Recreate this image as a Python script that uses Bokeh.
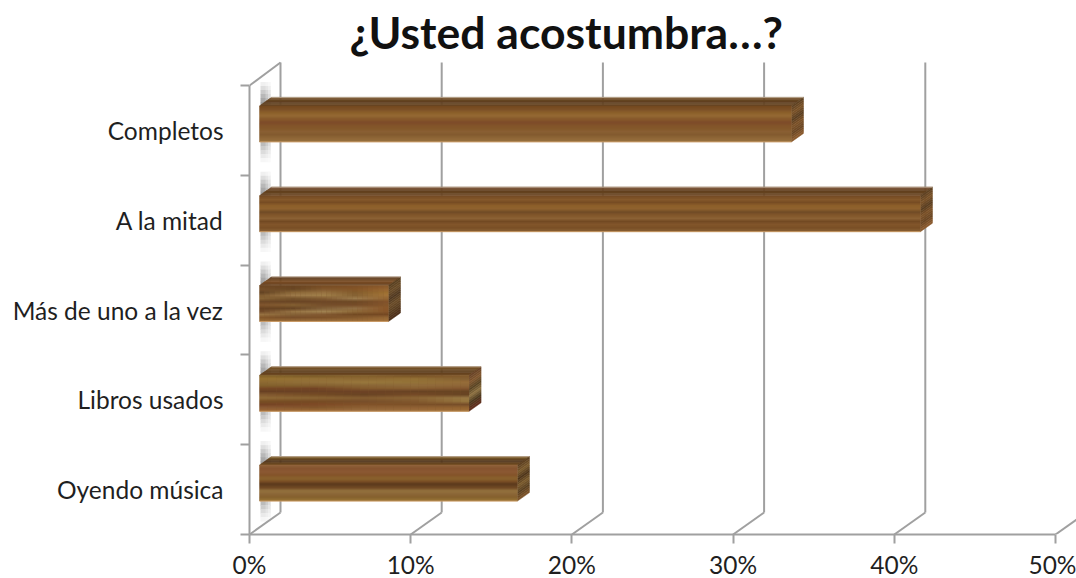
from bokeh.plotting import figure
from bokeh.models import FixedTicker, Range1d
from bokeh.embed import file_html
from bokeh.resources import INLINE

categories = ["Completos", "A la mitad", "Más de uno a la vez", "Libros usados", "Oyendo música"]
values = [33, 41, 8, 13, 16]
x_ticks = [0, 10, 20, 30, 40, 50]
x_labels = ["0%", "10%", "20%", "30%", "40%", "50%"]
title_text = "¿Usted acostumbra…?"

# wood grain: rows from top to bottom, each row with one or more colours from left to right
front_grain = [
    [["#74491f"], ["#7c5026"], ["#8d6029"], ["#9a6e34"], ["#88592a"], ["#7d4a28"],
     ["#825329"], ["#84582a"], ["#8b6134"], ["#825b2e"], ["#936b3a"], ["#997542"]],
    [["#724822"], ["#84582a"], ["#774c23"], ["#8f6029"], ["#93652e"], ["#6d4924"],
     ["#82572a"], ["#8b6134"], ["#724922"], ["#82552a"], ["#764b22"], ["#896136"]],
    [["#66401f", "#623e1e", "#75481f", "#7d4d24", "#8c5929"],
     ["#724e2a", "#634322", "#82592e", "#865526", "#9d6832"],
     ["#624324", "#8c6939", "#987342", "#845d2e", "#9f7132"],
     ["#825d32", "#9c794a", "#a07f4a", "#876334", "#a27338"],
     ["#876536", "#74532c", "#825d34", "#a08152", "#986934"],
     ["#664324", "#623f22", "#684224", "#664322", "#82512a"],
     ["#82552e", "#866334", "#724b2a", "#724826", "#86552a"],
     ["#623f20", "#624122", "#82633c", "#96754a", "#8d582a"],
     ["#724b2a", "#967344", "#a18352", "#8e6938", "#87552a"],
     ["#987342", "#866338", "#825932", "#724922", "#744722"],
     ["#84572a", "#764d2a", "#7c5128", "#865b2e", "#986936"],
     ["#9c6f38", "#a0733e", "#a07542", "#a4753e", "#ad793e"]],
    [["#826328", "#765722", "#825f2a", "#744f22", "#82592a"],
     ["#9e7b32", "#9a793a", "#926f36", "#9a7938", "#866334"],
     ["#906f34", "#98773e", "#a08142", "#98793a", "#9c733c"],
     ["#84632e", "#866332", "#8c6938", "#926f3e", "#92693a"],
     ["#764824", "#724324", "#82592c", "#865d30", "#82552e"],
     ["#643d22", "#683f24", "#6a3f24", "#643f22", "#644120"],
     ["#825930", "#724922", "#623d20", "#724724", "#623f20"],
     ["#946f3a", "#8c6936", "#865f32", "#8e6938", "#a0834a"],
     ["#764d22", "#744922", "#764d2a", "#82592e", "#9c7d42"],
     ["#764324", "#7e4926", "#82532a", "#7c5128", "#764d2a"],
     ["#8a5934", "#82552a", "#8e6134", "#906134", "#926330"],
     ["#a06936", "#a06d38", "#a07144", "#a2713e", "#a6733a"]],
    [["#90613a"], ["#875330"], ["#8e5934"], ["#845328"], ["#8c652e"], ["#784d24"],
     ["#56351a"], ["#6c4522"], ["#987942"], ["#8c6938"], ["#86632e"], ["#987336"]],
]
top_grain = [
    ["#6b4725", "#5f3f20", "#74502a"],
    ["#6b4725", "#64421f", "#70492a"],
    ["#6a4524", "#7c4e24", "#5c3a1c"],
    ["#6e4a24", "#5e3e1c", "#7a5628"],
    ["#7a5428", "#4e3218", "#80602f"],
]
side_grain = [
    ["#5f4222", "#7a5228", "#5a3e20", "#7c5228", "#6b4724", "#8a5a2e"],
    ["#5f4222", "#7a5228", "#5a3e20", "#7c5228", "#6b4724", "#8a5a2e"],
    ["#5a4020", "#6a4c28", "#503820", "#6a4c28", "#5a3e20", "#4c2e18"],
    ["#6a4426", "#80562e", "#5a4422", "#8c7040", "#4e3a1e", "#5e2e1c"],
    ["#5e4020", "#7a5a2c", "#4e3418", "#7a5a2c", "#5a4020", "#7a5228"],
]
wall_shade_above = ["#f0f0f0", "#dedede", "#cacaca", "#b8b8b8", "#a8a8a8", "#9c9c9c"]
wall_shade_below = ["#bcbcbc", "#cccccc", "#dcdcdc", "#eaeaea", "#f6f6f6"]

GRID = "#a0a0a0"
TEXT = "#1f1f1f"
FONT = "Lato"

px_x = 806 / 50          # pixels per percentage point
px_y = 449 / 5           # pixels per category band
depth_x, depth_y = 31 / px_x, 22 / px_y    # depth of the chart box
bar_dx, bar_dy = 12 / px_x, 8.5 / px_y     # depth of a bar
bar_x0 = 10 / px_x
bar_h = 36 / px_y
bar_lift = 6.5 / px_y


def rgb(c):
    return [int(c[j:j + 2], 16) for j in (1, 3, 5)]


def mix(a, b, t):
    return [a[j] + (b[j] - a[j]) * t for j in range(3)]


def hexc(c):
    return "#%02x%02x%02x" % tuple(int(round(x)) for x in c)


def smooth(colours, sub):
    """Blend between neighbouring grain colours so the streaks have soft edges."""
    if len(colours) == 1:
        return [rgb(colours[0])]
    out = []
    for a, b in zip(colours[:-1], colours[1:]):
        for s in range(sub):
            out.append(mix(rgb(a), rgb(b), s / sub))
    out.append(rgb(colours[-1]))
    return out


p = figure(width=1076, height=578, frame_height=474, frame_width=827,
           output_backend="svg", toolbar_location=None,
           x_range=Range1d(0, 827 / px_x), y_range=Range1d(0, 5 + 25 / px_y),
           min_border_left=249, min_border_right=0, min_border_top=60, min_border_bottom=44,
           background_fill_color="white", border_fill_color="white", outline_line_color=None)
p.grid.visible = False

p.title.text = title_text
p.title.text_font = FONT
p.title.text_font_size = "44.5px"
p.title.text_font_style = "bold"
p.title.text_color = "#111111"
p.title.align = "left"
p.title.offset = 100
p.title.standoff = 5

# value axis
xa = p.xaxis[0]
xa.ticker = FixedTicker(ticks=x_ticks)
xa.major_label_overrides = dict(zip(x_ticks, x_labels))
xa.bounds = (0, 50)
xa.axis_line_color = GRID
xa.axis_line_width = 2
xa.major_tick_line_color = GRID
xa.major_tick_line_width = 2
xa.major_tick_in = 0
xa.major_tick_out = 9
xa.minor_tick_line_color = None
xa.major_label_standoff = 6
xa.major_label_text_font = FONT
xa.major_label_text_font_size = "24.5px"
xa.major_label_text_color = TEXT

# category axis: labels at band centres, tick marks at band edges
centres = [5 - i - 0.5 for i in range(len(categories))]
edges = list(range(len(categories) + 1))
ya = p.yaxis[0]
ya.ticker = FixedTicker(ticks=centres, minor_ticks=edges)
ya.major_label_overrides = dict(zip(centres, categories))
ya.bounds = (0, 5)
ya.axis_line_color = GRID
ya.axis_line_width = 2
ya.major_tick_line_color = None
ya.major_tick_in = 0
ya.major_tick_out = 0
ya.minor_tick_line_color = GRID
ya.minor_tick_line_width = 2
ya.minor_tick_in = 0
ya.minor_tick_out = 9
ya.major_label_standoff = 17
ya.major_label_text_font = FONT
ya.major_label_text_font_size = "24.5px"
ya.major_label_text_color = TEXT

# shadow strip on the side wall
strip_l, strip_r = 11 / px_x, 21 / px_x
step = 4 / px_y
for c in centres:
    bottom = c + bar_lift - bar_h / 2
    top = bottom + bar_h
    for k, shade in enumerate(wall_shade_above):
        y0 = top + (len(wall_shade_above) - k) * step
        p.quad(left=strip_l, right=strip_r, bottom=y0 - step * 1.1, top=y0, fill_color=shade, line_color=None)
    for k, shade in enumerate(wall_shade_below):
        p.quad(left=strip_l, right=strip_r, top=bottom - k * step, bottom=bottom - (k + 1.1) * step,
               fill_color=shade, line_color=None)
    # soften the strip's right side
    span_top = top + len(wall_shade_above) * step
    span_bottom = bottom - (len(wall_shade_below) + 0.1) * step
    p.quad(left=strip_r - 5 / px_x, right=strip_r, bottom=span_bottom, top=span_top,
           fill_color="white", fill_alpha=0.25, line_color=None)
    p.quad(left=strip_r - 2.5 / px_x, right=strip_r, bottom=span_bottom, top=span_top,
           fill_color="white", fill_alpha=0.35, line_color=None)

# back wall and floor lines
p.segment([t + depth_x for t in x_ticks], [depth_y] * 6, [t + depth_x for t in x_ticks], [5 + 23 / px_y] * 6,
          line_color=GRID, line_width=2)
p.segment(x_ticks, [0] * 6, [t + depth_x for t in x_ticks], [depth_y] * 6, line_color=GRID, line_width=2)
p.segment([0], [5], [depth_x], [5 + 23 / px_y], line_color=GRID, line_width=2)

# bars
for i, v in enumerate(values):
    x1 = bar_x0 + v
    bottom = centres[i] + bar_lift - bar_h / 2
    top = bottom + bar_h

    # top face
    tg = [hexc(c) for c in smooth(top_grain[i], 3)]
    n = len(tg)
    p.patches([[bar_x0 + bar_dx * k / n, x1 + bar_dx * k / n, x1 + bar_dx * (k + 1) / n, bar_x0 + bar_dx * (k + 1) / n]
               for k in range(n)],
              [[top + bar_dy * k / n, top + bar_dy * k / n, top + bar_dy * (k + 1) / n, top + bar_dy * (k + 1) / n]
               for k in range(n)],
              fill_color=tg, line_color=tg, line_width=0.5)

    # side face
    sg = [hexc(c) for c in smooth(side_grain[i], 3)]
    n = len(sg)
    rh = bar_h / n
    p.patches([[x1, x1 + bar_dx, x1 + bar_dx, x1] for k in range(n)],
              [[top - k * rh, top - k * rh + bar_dy, top - (k + 1) * rh + bar_dy, top - (k + 1) * rh] for k in range(n)],
              fill_color=sg, line_color=sg, line_width=0.5)

    # front face: a plain base, then soft grain in both directions
    p.quad(left=bar_x0, right=x1, bottom=bottom, top=top, fill_color="#825a30", line_color=None)
    rows = front_grain[i]
    cols = [smooth(list(col), 3) for col in zip(*rows)]
    n_rows = len(cols[0])
    rh = bar_h / n_rows
    lefts, rights, bottoms, tops, colours = [], [], [], [], []
    for r in range(n_rows):
        row_cols = [cols[c][r] for c in range(len(cols))]
        if len(row_cols) == 1:
            row_fine = row_cols
        else:
            row_fine = []
            for a, b in zip(row_cols[:-1], row_cols[1:]):
                row_fine += [mix(a, b, s / 6) for s in range(6)]
            row_fine.append(row_cols[-1])
        w = v / len(row_fine)
        for c, colour in enumerate(row_fine):
            lefts.append(bar_x0 + c * w)
            rights.append(bar_x0 + (c + 1) * w)
            tops.append(top - r * rh)
            bottoms.append(top - (r + 1) * rh)
            colours.append(hexc(colour))
    p.quad(left=lefts, right=rights, bottom=bottoms, top=tops, fill_color=colours, line_color=None)

    # soft pale rim along the front and top edge
    p.line([bar_x0, x1], [bottom, bottom], line_color="#c99a66", line_width=1)
    p.line([bar_x0 + bar_dx, x1 + bar_dx], [top + bar_dy, top + bar_dy], line_color="#b5a08a", line_width=1)

open("out.html", "w").write(file_html(p, INLINE))
